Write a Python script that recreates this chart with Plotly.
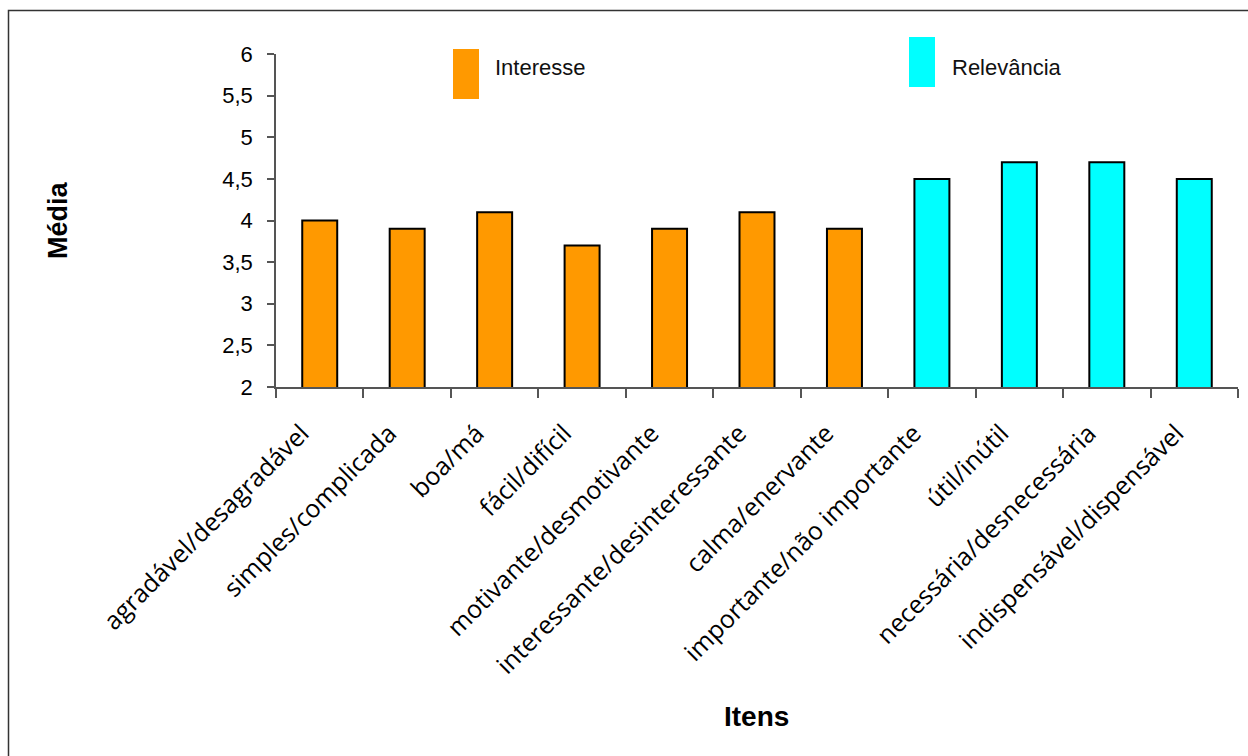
import plotly.graph_objects as go

# Itens e médias
itens_interesse = ["agradável/desagradável", "simples/complicada", "boa/má", "fácil/difícil",
                   "motivante/desmotivante", "interessante/desinteressante", "calma/enervante"]
medias_interesse = [4.0, 3.9, 4.1, 3.7, 3.9, 4.1, 3.9]

itens_relevancia = ["importante/não importante", "útil/inútil", "necessária/desnecessária",
                    "indispensável/dispensável"]
medias_relevancia = [4.5, 4.7, 4.7, 4.5]

y_ticks = [2, 2.5, 3, 3.5, 4, 4.5, 5, 5.5, 6]

FONT = "Liberation Sans, Arial, sans-serif"
LABEL_FONT = "Open Sans, DejaVu Sans, sans-serif"
W, H = 1248, 756
L, R, T, B = 276, 10, 54, 369
PW, PH = W - L - R, H - T - B


def px(x):
    return (x - L) / PW


def py(y):
    return (H - B - y) / PH


fig = go.Figure()
fig.add_bar(x=itens_interesse, y=medias_interesse, width=0.4, name="Interesse",
            marker=dict(color="#FF9900", line=dict(color="black", width=2)))
fig.add_bar(x=itens_relevancia, y=medias_relevancia, width=0.4, name="Relevância",
            marker=dict(color="#00FFFF", line=dict(color="black", width=2)))

shapes = [
    # moldura
    dict(type="rect", xref="paper", yref="paper", x0=px(8.5), x1=px(1260), y0=py(800), y1=py(10.5),
         line=dict(color="#333", width=1.5), fillcolor="rgba(0,0,0,0)", layer="below"),
    # legenda
    dict(type="rect", xref="paper", yref="paper", x0=px(453), x1=px(479), y0=py(99), y1=py(49),
         line=dict(width=0), fillcolor="#FF9900"),
    dict(type="rect", xref="paper", yref="paper", x0=px(909), x1=px(935), y0=py(87), y1=py(37),
         line=dict(width=0), fillcolor="#00FFFF"),
]

annotations = [
    dict(text="Interesse", xref="paper", yref="paper", x=px(493), y=py(67), xanchor="left",
         yanchor="middle", showarrow=False, font=dict(size=22, family=FONT, color="#111")),
    dict(text="Relevância", xref="paper", yref="paper", x=px(950), y=py(67), xanchor="left",
         yanchor="middle", showarrow=False, font=dict(size=22, family=FONT, color="#111")),
    dict(text="<b>Média</b>", xref="paper", yref="paper", x=px(58), y=py(220), textangle=-90,
         xanchor="center", yanchor="middle", showarrow=False,
         font=dict(size=27, family=FONT, color="black")),
    dict(text="<b>Itens</b>", xref="paper", yref="paper", x=px(756), y=py(716),
         xanchor="center", yanchor="middle", showarrow=False,
         font=dict(size=28, family=FONT, color="black")),
]

fig.update_layout(
    width=W, height=H,
    margin=dict(l=L, r=R, t=T, b=B),
    paper_bgcolor="white", plot_bgcolor="white",
    barmode="overlay", showlegend=False,
    separators=", ",
    font=dict(family=FONT, color="black"),
    shapes=shapes, annotations=annotations,
)
fig.update_xaxes(
    categoryorder="array", categoryarray=itens_interesse + itens_relevancia,
    showline=True, linecolor="#555", linewidth=1.5,
    ticks="outside", tickson="boundaries", ticklen=9, tickcolor="#555", tickwidth=1.5,
    tickangle=-45, ticklabelstandoff=20, ticklabelshift=-18,
    tickfont=dict(size=25, family=LABEL_FONT, color="black"),
    showgrid=False,
)
fig.update_yaxes(
    range=[2, 6], tickvals=y_ticks,
    showline=True, linecolor="#555", linewidth=1.5,
    ticks="outside", ticklen=7, tickcolor="#555", tickwidth=1.5, ticklabelstandoff=10,
    tickfont=dict(size=22, family=FONT, color="black"),
    showgrid=False, zeroline=False,
)

fig.write_html("out.html")
